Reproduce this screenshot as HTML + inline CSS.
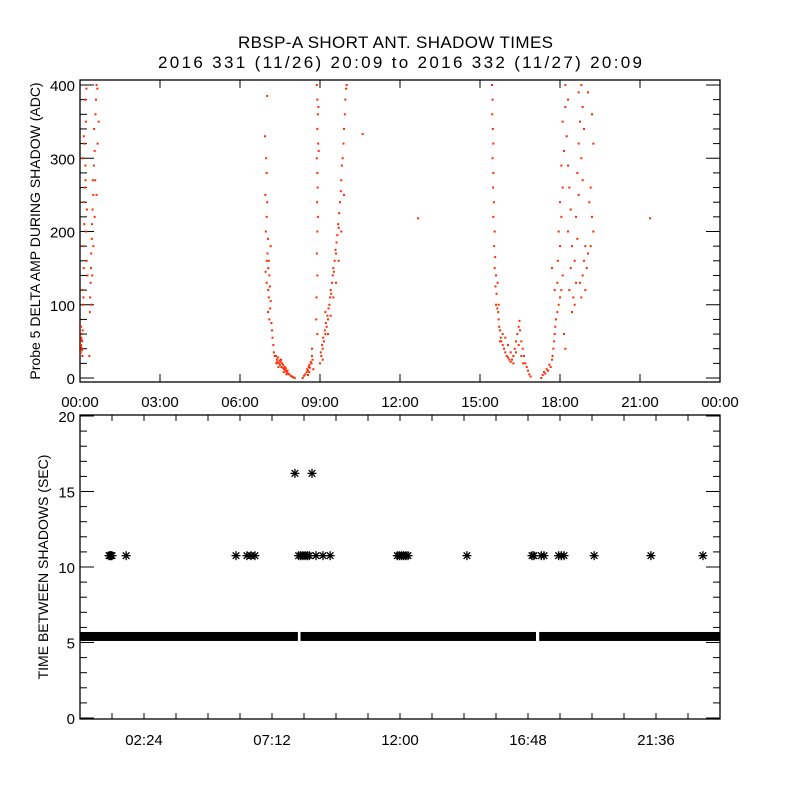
<!DOCTYPE html>
<html><head><meta charset="utf-8"><style>
body{margin:0;background:#fff;}
svg text{font-family:"Liberation Sans",sans-serif;fill:#000;}
</style></head><body>
<svg id="chart" width="800" height="800" viewBox="0 0 800 800" xmlns="http://www.w3.org/2000/svg">
<rect width="800" height="800" fill="#fff"/>
<text x="238" y="48" font-size="17" textLength="315" lengthAdjust="spacing">RBSP-A SHORT ANT. SHADOW TIMES</text>
<text x="158" y="68" font-size="17" textLength="484" lengthAdjust="spacing">2016 331 (11/26) 20:09 to 2016 332 (11/27) 20:09</text>
<text transform="translate(40,231) rotate(-90)" font-size="14" text-anchor="middle">Probe 5 DELTA AMP DURING SHADOW (ADC)</text>
<text transform="translate(48,567) rotate(-90)" font-size="14" text-anchor="middle">TIME BETWEEN SHADOWS (SEC)</text>
<g id="top"></g><g id="bot"></g>
</svg>
<script>
// ---- top panel data (hours, ADC) ----
const topTickLabelsX = ["00:00","03:00","06:00","09:00","12:00","15:00","18:00","21:00","00:00"];
const topTickLabelsY = ["0","100","200","300","400"];
const ampPoints = [
[0.03,35],[0.04,45],[0.05,55],[0.06,40],[0.07,60],[0.08,50],[0.09,30],[0.04,70],[0.1,65],[0.06,52],[0.05,42],[0.08,38],
[0.12,100],[0.13,110],[0.1,120],[0.14,150],[0.12,180],[0.16,210],[0.15,240],[0.18,260],[0.2,290],[0.17,320],[0.22,350],[0.19,380],[0.24,395],[0.14,330],[0.21,270],[0.26,230],[0.11,300],[0.23,200],[0.25,160],[0.28,140],
[0.37,90],[0.38,110],[0.4,130],[0.41,150],[0.42,170],[0.44,190],[0.45,210],[0.47,230],[0.5,250],[0.48,270],[0.52,290],[0.55,310],[0.53,340],[0.58,360],[0.6,380],[0.62,400],[0.65,395],[0.57,270],[0.62,250],[0.5,180],[0.46,140],[0.43,100],[0.35,30],[0.66,320],[0.7,350],[0.55,220],
[6.94,330],[6.98,300],[7.0,280],[6.95,250],[7.02,240],[7.0,220],[6.97,200],[7.05,190],[7.03,170],[7.08,160],[7.06,150],[7.1,140],[7.0,130],[7.12,125],[7.08,110],[7.15,105],[7.05,90],[7.1,80],[7.18,75],[7.13,95],[7.2,65],[7.22,55],[7.25,45],[7.27,35],[7.3,30],[7.02,385],[7.0,160],[7.15,180],[7.06,120],[6.96,145],
[7.35,30],[7.38,25],[7.4,22],[7.42,28],[7.45,20],[7.48,24],[7.5,18],[7.52,22],[7.55,15],[7.58,20],[7.6,14],[7.62,18],[7.65,12],[7.68,15],[7.7,10],[7.72,13],[7.75,8],[7.78,10],[7.8,6],[7.85,5],[7.9,3],[7.95,2],[8.0,1],[8.05,0],[7.36,20],[7.44,15],[7.54,25],[7.64,8],[7.74,5],
[8.35,0],[8.4,3],[8.45,5],[8.5,8],[8.52,12],[8.55,10],[8.58,15],[8.6,18],[8.62,14],[8.65,22],[8.68,20],[8.7,30],[8.72,25],[8.6,8],[8.7,40],[8.75,12],[8.55,4],
[8.88,400],[8.9,380],[8.92,360],[8.9,340],[8.93,320],[8.88,300],[8.9,280],[8.91,260],[8.89,240],[8.92,220],[8.9,200],[8.88,170],[8.9,140],[8.87,110],[8.86,80],[8.9,60],[8.94,370],[8.95,310],
[9.0,20],[9.03,35],[9.05,30],[9.08,45],[9.1,40],[9.12,55],[9.15,50],[9.18,65],[9.2,60],[9.22,75],[9.25,70],[9.28,85],[9.3,80],[9.32,95],[9.35,100],[9.38,110],[9.4,120],[9.42,115],[9.45,130],[9.48,140],[9.5,150],[9.52,145],[9.55,160],[9.58,175],[9.6,170],[9.62,185],[9.65,195],[9.68,210],[9.7,205],[9.72,225],[9.75,240],[9.78,255],[9.8,270],[9.82,290],[9.85,300],[9.88,320],[9.9,340],[9.93,360],[9.95,380],[9.98,395],[10.0,400],[9.1,25],[9.2,90],[9.3,60],[9.4,85],[9.5,110],[9.6,130],[9.7,160],[9.8,200],[9.9,250],
[10.6,333],[12.68,218],[21.38,218],
[15.45,400],[15.47,380],[15.46,360],[15.48,340],[15.5,320],[15.47,300],[15.5,280],[15.49,260],[15.52,240],[15.5,220],[15.55,200],[15.53,180],[15.57,165],[15.55,150],[15.6,140],[15.58,125],[15.62,115],[15.6,100],[15.65,95],[15.68,90],[15.7,80],[15.72,70],[15.75,65],[15.78,55],[15.8,50],[15.85,45],[15.9,40],[15.95,35],[16.0,30],[16.05,28],[16.1,25],[16.15,22],[16.2,25],[16.25,30],[16.3,40],[16.35,50],[16.4,60],[16.45,70],[16.48,78],[16.5,65],[16.55,50],[16.6,40],[16.65,30],[16.7,20],[16.75,15],[16.8,10],[16.85,5],[16.9,2],[15.75,50],[15.85,60],[15.95,55],[16.05,45],[16.15,35],[16.25,20],[16.35,35],[16.45,45],[16.55,30],[16.62,20],[15.7,100],[15.66,130],
[17.3,0],[17.35,4],[17.4,8],[17.45,6],[17.5,12],[17.55,10],[17.6,18],[17.65,15],[17.7,25],[17.72,30],[17.75,40],[17.78,50],[17.8,60],[17.82,70],[17.85,80],[17.9,90],[17.95,100],[18.0,110],[18.05,120],[17.9,130],[18.1,140],[17.92,160],[18.0,180],[17.95,200],[18.05,220],[18.0,240],[18.1,260],[18.05,290],[18.15,310],[18.1,350],[18.2,370],[18.2,400],[18.3,380],[18.25,330],[18.3,290],[18.35,260],[18.4,230],[18.3,200],[18.45,180],[18.4,150],[18.35,120],[18.5,110],[18.45,90],[18.55,100],[18.6,130],[18.55,160],[18.65,190],[18.6,220],[18.7,250],[18.65,280],[18.7,320],[18.75,350],[18.7,390],[18.8,400],[18.85,370],[18.9,340],[18.8,300],[18.85,270],[18.75,130],[18.85,140],[18.9,160],[18.95,120],[18.8,110],[19.0,150],[19.05,170],[18.95,180],[19.1,240],[19.15,260],[19.2,220],[19.15,180],[19.25,200],[19.05,390],[19.2,360],[19.25,320],[17.8,120],[18.15,60],[18.2,40],[17.7,150]
];
// ---- bottom panel data (hours, seconds) ----
const botTickLabelsX = ["02:24","07:12","12:00","16:48","21:36"];
const botTickLabelsY = ["0","5","10","15","20"];
const bandValue = 5.4;
const bandSegments = [[0,8.17],[8.27,17.1],[17.22,24]];
const gapTimes10 = [1.09,1.13,1.16,1.2,1.73,5.85,6.26,6.41,6.56,8.2,8.28,8.36,8.44,8.52,8.6,8.85,9.11,9.38,11.9,11.98,12.06,12.14,12.22,12.3,14.51,16.95,17.02,17.3,17.4,17.95,18.05,18.15,19.28,21.41,23.36];
const gapValues10 = gapTimes10.map(()=>10.75);
const gapTimes16 = [8.06,8.7];
const gapValues16 = [16.2,16.2];

const NS="http://www.w3.org/2000/svg";
function mk(parent,tag,attrs){const e=document.createElementNS(NS,tag);for(const k in attrs)e.setAttribute(k,attrs[k]);parent.appendChild(e);return e;}
const L=80,R=720;
const xs=h=>L+h/24*(R-L);
// top
const tT=80,tB=382; const yT=v=>378-v*0.7325;
const gt=document.getElementById('top');
const frameT=mk(gt,'rect',{x:L,y:tT,width:R-L,height:tB-tT,fill:'none',stroke:'#000','stroke-width':1.3});


for(let v=0;v<=400;v+=20){const y=yT(v);const len=v%100===0?14:7;
 mk(gt,'line',{x1:L,x2:L+len,y1:y,y2:y,stroke:'#000'});mk(gt,'line',{x1:R,x2:R-len,y1:y,y2:y,stroke:'#000'});}
topTickLabelsY.forEach((s,i)=>{const t=mk(gt,'text',{x:75,y:yT(i*100)+6,'font-size':15,'text-anchor':'end'});t.textContent=s;
 
 });
topTickLabelsX.forEach((s,i)=>{const x=xs(i*3);mk(gt,'line',{x1:x,x2:x,y1:tB,y2:tB-8,stroke:'#000'});mk(gt,'line',{x1:x,x2:x,y1:tT,y2:tT+8,stroke:'#000'});
 const t=mk(gt,'text',{x:x,y:407,'font-size':15,'text-anchor':'middle'});t.textContent=s;
 
 });
ampPoints.forEach(p=>{const r=mk(gt,'rect',{x:xs(p[0])-1,y:yT(p[1])-1,width:2,height:2,fill:'#ff2a00'});
 
 });
// bottom
const bT=415,bB=719; const yB=v=>718-v*15.1;
const gb=document.getElementById('bot');
const frameB=mk(gb,'rect',{x:L,y:bT,width:R-L,height:bB-bT,fill:'none',stroke:'#000','stroke-width':1.3});


for(let v=0;v<=20;v++){const y=yB(v);const len=v%5===0?14:7;
 mk(gb,'line',{x1:L,x2:L+len,y1:y,y2:y,stroke:'#000'});mk(gb,'line',{x1:R,x2:R-len,y1:y,y2:y,stroke:'#000'});}
botTickLabelsY.forEach((s,i)=>{const t=mk(gb,'text',{x:75,y:yB(i*5)+6,'font-size':15,'text-anchor':'end'});t.textContent=s;
 
 });
for(let k=1;k<20;k++){const x=xs(k*1.2);mk(gb,'line',{x1:x,x2:x,y1:bB,y2:bB-6,stroke:'#000'});mk(gb,'line',{x1:x,x2:x,y1:bT,y2:bT+6,stroke:'#000'});}
botTickLabelsX.forEach((s,i)=>{const t=mk(gb,'text',{x:xs(2.4+i*4.8),y:745,'font-size':15,'text-anchor':'middle'});t.textContent=s;
 
 });
bandSegments.forEach(s=>{const r=mk(gb,'rect',{x:xs(s[0]),y:yB(bandValue)-4.5,width:xs(s[1])-xs(s[0]),height:9,fill:'#000'});
 
 });
function star(h,v){const cx=xs(h),cy=yB(v),d=4.5,e=3.3;
 const g=mk(gb,'g',{stroke:'#000','stroke-width':1.3});
 
 
 mk(g,'line',{x1:cx-d,x2:cx+d,y1:cy,y2:cy});mk(g,'line',{x1:cx,x2:cx,y1:cy-d,y2:cy+d});
 mk(g,'line',{x1:cx-e,x2:cx+e,y1:cy-e,y2:cy+e});mk(g,'line',{x1:cx-e,x2:cx+e,y1:cy+e,y2:cy-e});}
gapTimes10.forEach((h,i)=>star(h,gapValues10[i]));
gapTimes16.forEach((h,i)=>star(h,gapValues16[i]));
</script>
</body></html>
